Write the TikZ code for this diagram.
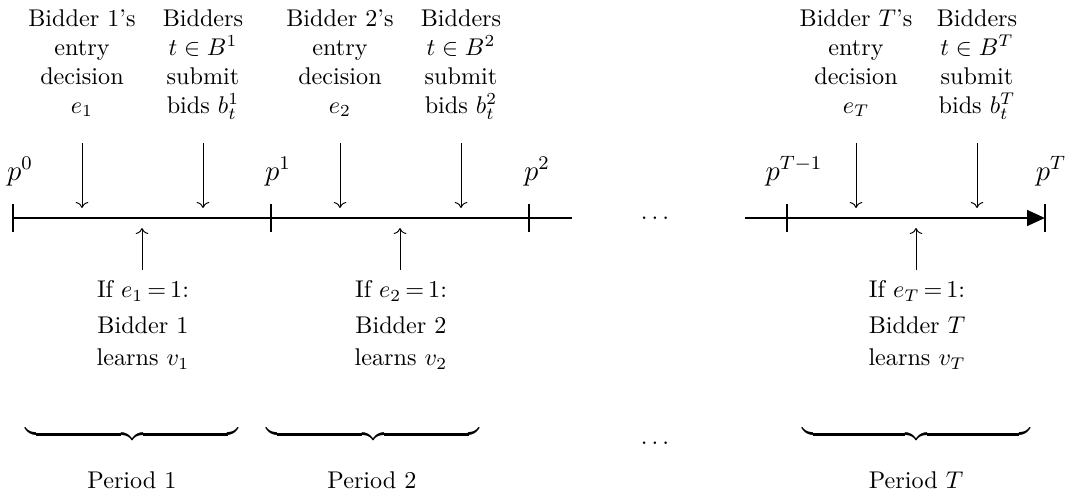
\documentclass[tikz,border=0pt]{standalone}
\usetikzlibrary{arrows.meta}
\begin{document}
\begin{tikzpicture}[x=0.41357pt,y=-0.41357pt,
  txt/.style={align=center,inner sep=0pt,anchor=north},
  lbl/.style={inner sep=0pt,anchor=base},
  plbl/.style={inner sep=0pt,anchor=base,font=\large},
  axis/.style={line width=1.2pt},
  tickmark/.style={line width=1.2pt},
  evt/.style={->,line width=0.4pt},
  brc/.style={inner sep=0pt,anchor=north}]
\useasboundingbox (0,0) rectangle (1071,493);
% timeline coordinates
\coordinate (t0) at (13,218);
\coordinate (t1) at (271,218);
\coordinate (t2) at (529,218);
\coordinate (e1) at (572,218);
\coordinate (s2) at (745,218);
\coordinate (t3) at (787,218);
\coordinate (t4) at (1045,218);
\draw[axis] (t0) -- (e1);
\draw[axis,-{Triangle[length=7.4pt,width=6.4pt]}] (s2) -- (t4);
\foreach \t in {t0,t1,t2,t3,t4}{
  \draw[tickmark] ([yshift=-14*0.41357pt]\t) -- ([yshift=14*0.41357pt]\t);
}
% point labels
\node[plbl] (p0) at (20,180) {$p^0$};
\node[plbl] (p1) at (278,180) {$p^1$};
\node[plbl] (p2) at (537,180) {$p^2$};
\node[plbl] (p3) at (794,180) {$p^{T-1}$};
\node[plbl] (p4) at (1051,180) {$p^T$};
% dots
\node[lbl] (dt) at (655,219) {$\dots$};
\node[lbl] (db) at (655,444) {$\dots$};
% top texts
\node[txt] (a1) at (82,9) {Bidder 1's\\entry\\decision\\$e_1$};
\node[txt] (b1) at (203,9) {Bidders\\$t\in B^1$\\submit\\bids $b^1_t$};
\node[txt] (a2) at (340,9) {Bidder 2's\\entry\\decision\\$e_2$};
\node[txt] (b2) at (461,9) {Bidders\\$t\in B^2$\\submit\\bids $b^2_t$};
\node[txt] (a3) at (856,9) {Bidder $T$'s\\entry\\decision\\$e_T$};
\node[txt] (b3) at (977,9) {Bidders\\$t\in B^T$\\submit\\bids $b^T_t$};
% down arrows
\foreach \n/\x in {da1/82,db1/203,da2/340,db2/461,da3/856,db3/977}{
  \coordinate (\n s) at (\x,143);
  \coordinate (\n e) at (\x,208);
  \draw[evt] (\n s) -- (\n e);
}
% up arrows
\foreach \n/\x in {u1/142,u2/400,u3/916}{
  \coordinate (\n s) at (\x,270);
  \coordinate (\n e) at (\x,228);
  \draw[evt] (\n s) -- (\n e);
}
% bottom texts
\node[txt] (c1) at (143,280) {If $e_1\,{=}\,1$:\\[2.9pt]Bidder 1\\[1.2pt]learns $v_1$};
\node[txt] (c2) at (401,280) {If $e_2\,{=}\,1$:\\[2.9pt]Bidder 2\\[1.2pt]learns $v_2$};
\node[txt] (c3) at (917,280) {If $e_T\,{=}\,1$:\\[2.9pt]Bidder $T$\\[1.2pt]learns $v_T$};
% braces
\node[brc] (br1) at (132,425) {$\underbrace{\hspace{88.1pt}}$};
\node[brc] (br2) at (373,425) {$\underbrace{\hspace{88.1pt}}$};
\node[brc] (br3) at (916,425) {$\underbrace{\hspace{94.3pt}}$};
\node[lbl] (q1) at (132,488) {Period 1};
\node[lbl] (q2) at (372,488) {Period 2};
\node[lbl] (q3) at (916,488) {Period $T$};
\end{tikzpicture}
\end{document}
